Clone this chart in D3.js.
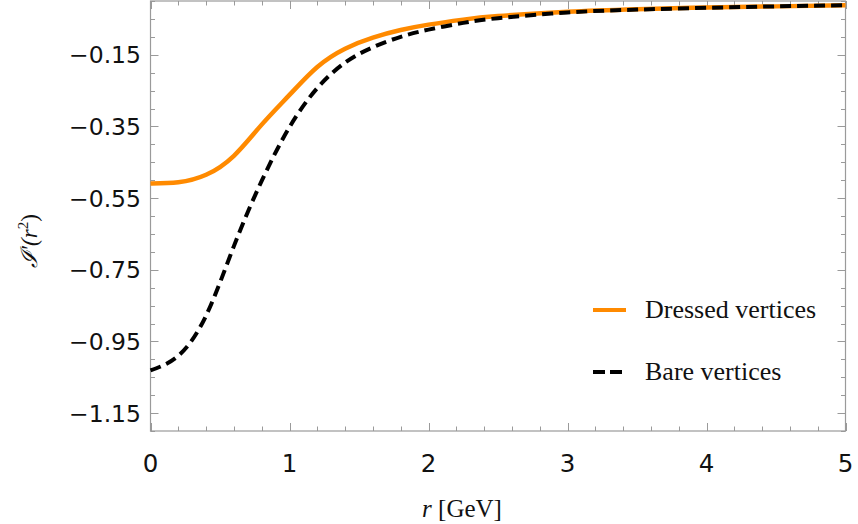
<!DOCTYPE html>
<html>
<head>
<meta charset="utf-8">
<script src="https://cdn.jsdelivr.net/npm/d3@7"></script>
<style>
  html, body { margin: 0; padding: 0; background: #fff; }
  svg { display: block; }
</style>
</head>
<body>
<svg id="chart" width="858" height="524"></svg>
<script>
// r grid in GeV
const rValues = [0, 0.2, 0.4, 0.6, 0.8, 1.0, 1.2, 1.4, 1.6, 1.8, 2.0, 2.25, 2.5, 3.0, 3.5, 4.0, 4.5, 5.0];
// I'(r^2) with dressed vertices
const dressedValues = [-0.509, -0.506, -0.485, -0.432, -0.345, -0.262, -0.184, -0.133, -0.102, -0.081, -0.066, -0.052, -0.042, -0.030, -0.023, -0.018, -0.015, -0.012];
// I'(r^2) with bare vertices
const bareValues = [-1.031, -0.990, -0.878, -0.684, -0.502, -0.352, -0.243, -0.172, -0.129, -0.100, -0.080, -0.061, -0.048, -0.032, -0.024, -0.019, -0.015, -0.012];

const xTickValues = [0, 1, 2, 3, 4, 5];
const yTickValues = [-0.15, -0.35, -0.55, -0.75, -0.95, -1.15];
const seriesNames = ["Dressed vertices", "Bare vertices"];

const svg = d3.select("#chart");
const plot = { left: 150.5, right: 845.5, top: 1, bottom: 431 };

const x = d3.scaleLinear().domain([0, 5]).range([plot.left, plot.right]);
const y = d3.scaleLinear().domain([-1.2, 0]).range([plot.bottom, plot.top]);

const frameColor = "#9a9a9a";
const orange = "#ff8a00";

// minor/major tick sets
const xMinor = d3.range(0, 5.0001, 0.2).filter(v => Math.abs(v - Math.round(v)) > 1e-6);
const yMinor = d3.range(-1.2, 0.0001, 0.05).map(v => +v.toFixed(2))
  .filter(v => !yTickValues.some(t => Math.abs(t - v) < 1e-6));

const majorLen = 8, minorLen = 4.5;
const ticks = svg.append("g").attr("stroke", frameColor).attr("stroke-width", 1);

function xTick(v, len) {
  const px = Math.round(x(v)) + 0.5;
  ticks.append("line").attr("x1", px).attr("x2", px).attr("y1", plot.bottom).attr("y2", plot.bottom - len);
  ticks.append("line").attr("x1", px).attr("x2", px).attr("y1", plot.top).attr("y2", plot.top + len);
}
function yTick(v, len) {
  const py = Math.round(y(v)) + 0.5;
  ticks.append("line").attr("x1", plot.left).attr("x2", plot.left + len).attr("y1", py).attr("y2", py);
  ticks.append("line").attr("x1", plot.right).attr("x2", plot.right - len).attr("y1", py).attr("y2", py);
}
xTickValues.forEach(v => xTick(v, majorLen));
xMinor.forEach(v => xTick(v, minorLen));
yTickValues.forEach(v => yTick(v, majorLen));
yMinor.forEach(v => yTick(v, minorLen));

// frame
svg.append("rect")
  .attr("x", plot.left).attr("y", plot.top)
  .attr("width", plot.right - plot.left).attr("height", plot.bottom - plot.top)
  .attr("fill", "none").attr("stroke", frameColor).attr("stroke-width", 1.2);

// tick labels
const fmtY = v => (v < 0 ? "\u2212" : "") + Math.abs(v).toFixed(2);
svg.append("g").selectAll("text").data(yTickValues).join("text")
  .attr("x", 141).attr("y", d => y(d))
  .attr("dy", "0.36em")
  .attr("text-anchor", "end")
  .attr("font-family", "DejaVu Sans, sans-serif")
  .attr("font-size", 23.5)
  .attr("fill", "#111")
  .text(fmtY);

svg.append("g").selectAll("text").data(xTickValues).join("text")
  .attr("x", d => x(d)).attr("y", 472)
  .attr("text-anchor", "middle")
  .attr("font-family", "DejaVu Sans, sans-serif")
  .attr("font-size", 24.5)
  .attr("fill", "#111")
  .text(d => d);

// curves
const pts = vals => rValues.map((r, i) => [r, vals[i]]);
const line = d3.line().x(d => x(d[0])).y(d => y(d[1])).curve(d3.curveNatural);

const curves = svg.append("g").attr("fill", "none");
curves.append("path").datum(pts(dressedValues))
  .attr("d", line).attr("stroke", orange).attr("stroke-width", 4.5)
  .attr("stroke-linejoin", "round");
curves.append("path").datum(pts(bareValues))
  .attr("d", line).attr("stroke", "#000").attr("stroke-width", 4)
  .attr("stroke-dasharray", "11,6");

// axis titles
svg.append("text")
  .attr("x", 462).attr("y", 517)
  .attr("text-anchor", "middle")
  .attr("font-family", "Liberation Serif, serif")
  .attr("font-size", 25)
  .attr("fill", "#111")
  .call(t => {
    t.append("tspan").attr("font-style", "italic").text("r");
    t.append("tspan").text("\u00a0[GeV]");
  });

svg.append("text")
  .attr("transform", "translate(37,241) rotate(-90)")
  .attr("text-anchor", "middle")
  .attr("font-family", "Liberation Serif, serif")
  .attr("font-size", 23)
  .attr("fill", "#111")
  .call(t => {
    t.append("tspan").attr("font-style", "italic").text("\u2110\u2032(");
    t.append("tspan").attr("font-style", "italic").text("r");
    t.append("tspan").attr("font-size", 15).attr("dy", -9).text("2");
    t.append("tspan").attr("dy", 9).text(")");
  });

// legend
const legend = svg.append("g");
const legendRows = [
  { name: seriesNames[0], y: 310, stroke: orange, dash: null },
  { name: seriesNames[1], y: 372, stroke: "#000", dash: "12,5" }
];
legendRows.forEach(row => {
  legend.append("line")
    .attr("x1", 593).attr("x2", 626).attr("y1", row.y).attr("y2", row.y)
    .attr("stroke", row.stroke).attr("stroke-width", 4)
    .attr("stroke-dasharray", row.dash);
  legend.append("text")
    .attr("x", 645).attr("y", row.y + 8)
    .attr("font-family", "Liberation Serif, serif")
    .attr("font-size", 26)
    .attr("fill", "#111")
    .text(row.name);
});
</script>
</body>
</html>
